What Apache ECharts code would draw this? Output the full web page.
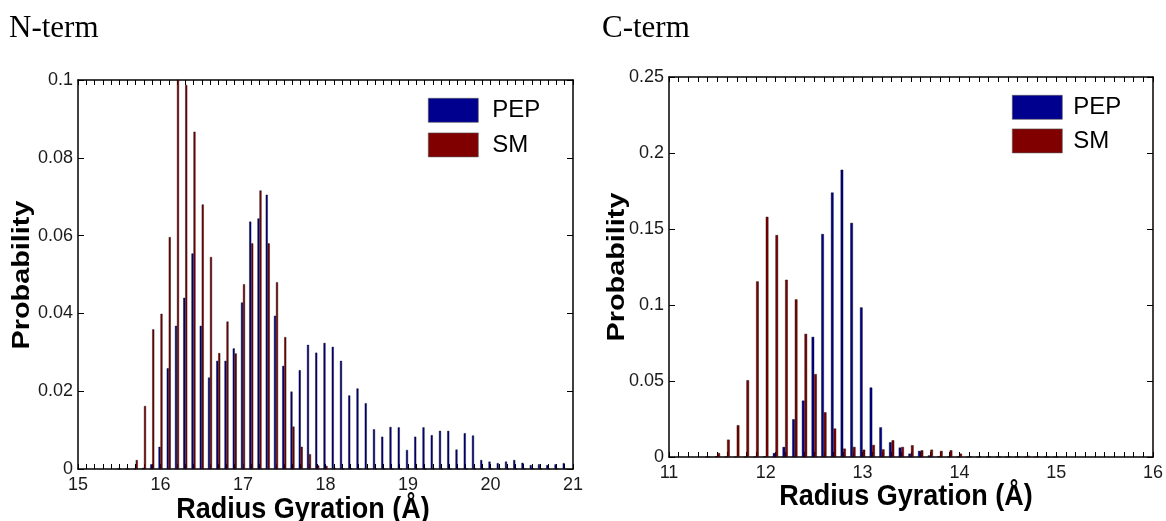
<!DOCTYPE html>
<html>
<head>
<meta charset="utf-8">
<script src="https://cdn.jsdelivr.net/npm/echarts@6/dist/echarts.min.js"></script>
<style>
html,body{margin:0;padding:0;background:#fff;}
#main{width:1166px;height:521px;}
</style>
</head>
<body>
<div id="main"></div>
<script>
// ---- N-term panel ----
var nBins = [15.5,15.6,15.7,15.8,15.9,16.0,16.1,16.2,16.3,16.4,16.5,16.6,16.7,16.8,16.9,
  17.0,17.1,17.2,17.3,17.4,17.5,17.6,17.7,17.8,17.9,18.0,18.1,18.2,18.3,18.4,18.5,18.6,18.7,18.8,18.9,
  19.0,19.1,19.2,19.3,19.4,19.5,19.6,19.7,19.8,19.9,20.0,20.1,20.2,20.3,20.4,20.5,20.6,20.7,20.8,20.9];
var nPep = [0,0,0,0.0003,0.0012,0.0057,0.0259,0.0368,0.0440,0.0554,0.0368,0.0235,0.0278,0.0278,0.0310,
  0.0428,0.0636,0.0644,0.0705,0.0394,0.0265,0.0199,0.0254,0.0319,0.0299,0.0324,0.0314,0.0278,0.0189,0.0207,0.0169,0.0102,0.0083,0.0108,0.0107,
  0.0049,0.0083,0.0107,0.0087,0.0098,0.0098,0.0050,0.0092,0.0086,0.0023,0.0019,0.0015,0.0019,0.0023,0.0016,0.0010,0.0012,0.0010,0.0012,0.0015];
var nSm = [0,0,0.0023,0.0162,0.0359,0.0399,0.0596,0.1000,0.0987,0.0867,0.0680,0.0545,0.0298,0.0379,0.0297,
  0.0475,0.0580,0.0716,0.0580,0.0480,0.0339,0.0109,0.0057,0.0038,0.0009,0.0008,0.0003,0,0.0002,0,0,0,0,0,0,
  0,0,0,0,0,0,0,0,0,0,0,0,0,0,0,0,0,0,0,0];
var nXTicks = [15,21,1];      // min, max, interval
var nYTicks = [0,0.1,0.02];

// ---- C-term panel ----
var cBins = [11.4,11.5,11.6,11.7,11.8,11.9,12.0,12.1,12.2,12.3,12.4,12.5,12.6,12.7,12.8,12.9,
  13.0,13.1,13.2,13.3,13.4,13.5,13.6,13.7,13.8,13.9,14.0,14.1,14.2,14.3,14.4,14.5,14.6,14.7,14.8,14.9,15.0];
var cPep = [0,0.0005,0,0,0,0,0.0005,0.0026,0.0066,0.0248,0.0371,0.0790,0.1467,0.1740,0.1890,0.1540,
  0.0984,0.0457,0.0195,0.0097,0.0062,0.0022,0.0040,0.0010,0.0005,0,0,0,0,0,0,0,0,0,0,0,0];
var cSm = [0,0.0026,0.0114,0.0209,0.0505,0.1155,0.1580,0.1460,0.1166,0.1037,0.0810,0.0545,0.0294,0.0187,0.0055,0.0066,
  0.0048,0.0079,0.0050,0.0110,0.0066,0.0077,0.0044,0.0048,0.0040,0.0044,0.0022,0.0005,0.0003,0.0003,0.0003,0.0003,0.0003,0.0008,0.0005,0,0];
var cXTicks = [11,16,1];
var cYTicks = [0,0.25,0.05];

var seriesNames = ['PEP','SM'];
var colors = ['#00008f','#800000'];
var panelTitles = ['N-term','C-term'];
var xTitle = 'Radius Gyration (Å)';
var yTitle = 'Probability';

function pairs(xs, ys){ return xs.map(function(x,i){ return [x, ys[i]]; }); }

var FONT = '"Liberation Sans", Arial, sans-serif';
var axisLine = {show:true, onZero:false, lineStyle:{color:'#000', width:1.5}};

function xAxes(t, gi){
  var base = {type:'value', gridIndex:gi, min:t[0], max:t[1], interval:t[2],
    axisLine:axisLine, splitLine:{show:false},
    axisTick:{show:true, inside:true, length:5, lineStyle:{color:'#000', width:1}},
    minorTick:{show:true, splitNumber:10, length:5, lineStyle:{color:'#000', width:1}},
    minorSplitLine:{show:false}};
  var bottom = Object.assign({}, base, {position:'bottom',
    axisLabel:{show:true, fontSize:18, color:'#1a1a1a', fontFamily:FONT, margin:7}});
  var top = Object.assign({}, base, {position:'top', axisLabel:{show:false}});
  return [bottom, top];
}
function yAxes(t, gi){
  var base = {type:'value', gridIndex:gi, min:t[0], max:t[1], interval:t[2],
    axisLine:axisLine, splitLine:{show:false},
    axisTick:{show:true, inside:true, length:6, lineStyle:{color:'#000', width:1}}};
  var left = Object.assign({}, base, {position:'left',
    axisLabel:{show:true, fontSize:18, color:'#1a1a1a', fontFamily:FONT, margin:5}});
  var right = Object.assign({}, base, {position:'right', axisLabel:{show:false}});
  return [left, right];
}

function barSeries(name, data, gi, color, w){
  return {type:'bar', name:name, xAxisIndex:gi*2, yAxisIndex:gi*2, data:data,
    barWidth:w, barGap:'0%', itemStyle:{color:color, borderColor:'#000', borderWidth:0.4},
    animation:false, emphasis:{disabled:true}};
}

var option = {
  backgroundColor:'#fff',
  animation:false,
  grid:[
    {left:78, right:593, top:80, bottom:52},
    {left:669, right:13, top:77, bottom:64}
  ],
  xAxis: xAxes(nXTicks,0).concat(xAxes(cXTicks,1)),
  yAxis: yAxes(nYTicks,0).concat(yAxes(cYTicks,1)),
  legend:[
    {data:seriesNames, left:423, top:93, orient:'vertical', itemWidth:50, itemHeight:24, itemGap:10,
     icon:'rect', selectedMode:false, itemStyle:{borderColor:'#555', borderWidth:0.6},
     textStyle:{fontSize:24, color:'#000', fontFamily:FONT, padding:[0,0,0,9]}},
    {data:seriesNames, left:1007, top:90, orient:'vertical', itemWidth:50, itemHeight:24, itemGap:9,
     icon:'rect', selectedMode:false, itemStyle:{borderColor:'#555', borderWidth:0.6},
     textStyle:{fontSize:24, color:'#000', fontFamily:FONT, padding:[0,0,0,6]}}
  ],
  series:[
    barSeries(seriesNames[0], pairs(nBins,nPep), 0, colors[0], 2),
    barSeries(seriesNames[1], pairs(nBins,nSm), 0, colors[1], 2),
    barSeries(seriesNames[0], pairs(cBins,cPep), 1, colors[0], 2.6),
    barSeries(seriesNames[1], pairs(cBins,cSm), 1, colors[1], 2.6)
  ],
  graphic:[
    {type:'text', x:9, y:13, style:{text:panelTitles[0], font:'31px "Liberation Serif", "Times New Roman", serif', fill:'#000'}},
    {type:'text', x:602, y:13, style:{text:panelTitles[1], font:'31px "Liberation Serif", "Times New Roman", serif', fill:'#000'}},
    {type:'text', x:22, y:275, rotation:Math.PI/2, scaleX:1.2,
     style:{text:yTitle, font:'bold 24px "Liberation Sans", Arial, sans-serif', fill:'#000',
            align:'center', verticalAlign:'middle', textAlign:'center', textVerticalAlign:'middle'}},
    {type:'text', x:617, y:267, rotation:Math.PI/2, scaleX:1.2,
     style:{text:yTitle, font:'bold 24px "Liberation Sans", Arial, sans-serif', fill:'#000',
            align:'center', verticalAlign:'middle', textAlign:'center', textVerticalAlign:'middle'}},
    {type:'text', x:303, y:510, scaleY:1.1,
     style:{text:xTitle, font:'bold 27px "Liberation Sans", Arial, sans-serif', fill:'#000',
            align:'center', verticalAlign:'middle', textAlign:'center', textVerticalAlign:'middle'}},
    {type:'text', x:906, y:497, scaleY:1.1,
     style:{text:xTitle, font:'bold 27px "Liberation Sans", Arial, sans-serif', fill:'#000',
            align:'center', verticalAlign:'middle', textAlign:'center', textVerticalAlign:'middle'}}
  ]
};

var chart = echarts.init(document.getElementById('main'), null, {renderer:'canvas'});
chart.setOption(option);
</script>
</body>
</html>
